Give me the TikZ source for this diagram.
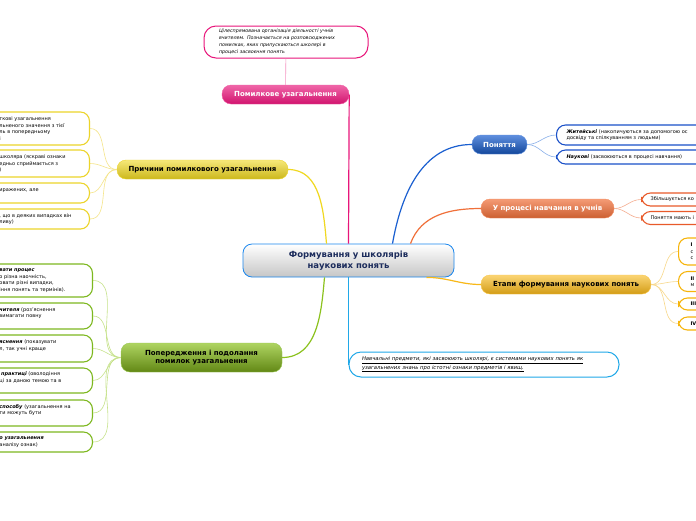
\documentclass[tikz,border=0pt]{standalone}
\usepackage{fontspec}
\setmainfont{DejaVu Sans}
\usetikzlibrary{positioning}

\definecolor{pinklink}{HTML}{E8157A}
\definecolor{yelllink}{HTML}{F0D820}
\definecolor{yelledge}{HTML}{ECD42A}
\definecolor{yelltwig}{HTML}{F5E58A}
\definecolor{grnlink}{HTML}{8CC21E}
\definecolor{grnedge}{HTML}{7DB81F}
\definecolor{grntwig}{HTML}{C6E28A}
\definecolor{bluelink}{HTML}{1A5FD0}
\definecolor{blueedge}{HTML}{1A50C8}
\definecolor{bluetwig}{HTML}{8AB0EA}
\definecolor{orglink}{HTML}{F0703A}
\definecolor{orgedge}{HTML}{E85A2A}
\definecolor{orgtwig}{HTML}{F5AD90}
\definecolor{amblink}{HTML}{F8B818}
\definecolor{ambedge}{HTML}{F6B40A}
\definecolor{ambtwig}{HTML}{F8D88A}
\definecolor{cyanlink}{HTML}{20A8E8}
\definecolor{navytext}{HTML}{1C2C5C}

\begin{document}
\begin{tikzpicture}[x=1pt,y=-1pt,
  mainbox/.style={rounded corners=9pt,align=center,inner sep=2pt,
    font=\fontsize{7}{8.5}\selectfont\bfseries},
  leaf/.style={draw,line width=1.1pt,rounded corners=9pt,fill=white,
    inner xsep=10pt,inner ysep=2pt,align=left,font=\fontsize{5}{6.5}\selectfont},
  note/.style={draw,line width=1pt,rounded corners=12pt,fill=white,
    inner xsep=12pt,inner ysep=2pt,align=left,font=\fontsize{4.8}{6.9}\selectfont\itshape},
  link/.style={line width=1.2pt},
  twig/.style={line width=0.6pt}
]
\useasboundingbox (0,0) rectangle (696,520);
\clip (0,0) rectangle (696,520);
\fill[white] (0,0) rectangle (696,520);

\node[mainbox,draw=cyanlink!80!blue,line width=0.8pt,top color=white,bottom color=gray!45,
  text=navytext,minimum width=211pt,minimum height=33pt,
  font=\fontsize{8.5}{10.5}\selectfont\bfseries] (central) at (348.5,260.5)
  {Формування у школярів\\наукових понять};

\node[note,draw=pinklink,minimum width=164pt,minimum height=32pt,text width=134pt,inner xsep=15pt] (notetop) at (286,42)
  {Цілеспрямована організація діяльності учнів\\вчителем. Позначається на розповсюджених\\помилках, яких припускаються школярі в\\процесі засвоєння понять};
\node[mainbox,draw=pinklink!70!white,top color=pinklink!65!white,bottom color=pinklink!90!black,
  text=white,minimum width=127pt,minimum height=19pt] (pomylk) at (285.5,94.5) {Помилкове узагальнення};

\node[mainbox,draw=yelledge,top color=yelllink!60!white,bottom color=yelllink!85!black,
  minimum width=171pt,minimum height=19pt] (prychyny) at (202.5,169.5) {Причини помилкового узагальнення};
\node[mainbox,draw=grnedge!80!white,top color=grnlink!70!white,bottom color=grnlink!70!black,
  minimum width=161pt,minimum height=29pt] (poper) at (201.5,357.5) {Попередження і подолання\\помилок узагальнення};
\node[mainbox,draw=bluelink!70!white,top color=bluelink!70!white,bottom color=bluelink!75!black,
  text=white,minimum width=55pt,minimum height=19pt] (ponyattya) at (499.5,144.5) {Поняття};
\node[mainbox,draw=orglink!80!white,top color=orglink!70!white,bottom color=orglink!85!black,
  text=white,minimum width=133pt,minimum height=19pt] (navch) at (547.5,208.5) {У процесі навчання в учнів};
\node[mainbox,draw=amblink!80!white,top color=amblink!60!white,bottom color=amblink!85!black,
  minimum width=170pt,minimum height=19pt] (etapy) at (566,284.5) {Етапи формування наукових понять};

\node[note,draw=cyanlink,minimum width=270pt,minimum height=25pt,text width=244pt,
  font=\fontsize{5.3}{7}\selectfont\itshape] (notebot) at (484,364.5)
  {\underline{Навчальні предмети, які засвоюють школярі, є системами наукових понять як}\\
   \underline{узагальнених знань про істотні ознаки предметів і явищ.}};

% причини
\node[leaf,draw=yelledge,text width=80pt,anchor=east,minimum height=33pt] (pr1) at (90,128.5)
  {ткові узагальнення\\льненого значення з тієї\\ль в попередньому\\і};
\node[leaf,draw=yelledge,text width=80pt,anchor=east,minimum height=27pt] (pr2) at (90,163.5)
  {школяра (яскраві ознаки\\едньо сприймається з\\)};
\node[leaf,draw=yelledge,text width=80pt,anchor=east,minimum height=20pt] (pr3) at (90,193)
  {иражених, але\\\mbox{}};
\node[leaf,draw=yelledge,text width=80pt,anchor=east,minimum height=20pt] (pr4) at (90,219)
  {, що в деяких випадках він\\ливу)};

% попередження
\node[leaf,draw=grnedge,text width=81pt,inner xsep=12pt,anchor=east,minimum height=33pt] (pp1) at (93,280.5)
  {\textbf{\textit{вати процес}}\\о різна наочність,\\овати різні випадки,\\іння понять та термінів).};
\node[leaf,draw=grnedge,text width=81pt,inner xsep=12pt,anchor=east,minimum height=26pt] (pp2) at (93,316)
  {\textbf{\textit{чителя}} (роз'яснення\\ вимагати повну\\\mbox{}};
\node[leaf,draw=grnedge,text width=81pt,inner xsep=12pt,anchor=east,minimum height=27pt] (pp3) at (93,348.5)
  {\textbf{\textit{яснення}} (показувати\\л, так учні краще\\\mbox{}};
\node[leaf,draw=grnedge,text width=81pt,inner xsep=12pt,anchor=east,minimum height=25pt] (pp4) at (93,380.5)
  {\textbf{\textit{ практиці}} (оволодіння\\ці за даною темою та в\\\mbox{}};
\node[leaf,draw=grnedge,text width=81pt,inner xsep=12pt,anchor=east,minimum height=26pt] (pp5) at (93,413)
  {\textbf{\textit{способу}} (узагальнення на\\ти можуть бути\\\mbox{}};
\node[leaf,draw=grnedge,text width=81pt,inner xsep=12pt,anchor=east,minimum height=20pt] (pp6) at (93,442)
  {\textbf{\textit{о узагальнення}}\\ аналізу ознак)};

% поняття
\node[leaf,draw=blueedge,text width=200pt,anchor=west,minimum height=20pt] (pn1) at (556,135)
  {\textbf{\textit{Житейські}} (накопичуються за допомогою ос\\досвіду та спілкуванням з людьми)};
\node[leaf,draw=blueedge,text width=200pt,anchor=west,minimum height=14pt] (pn2) at (556,157)
  {\textbf{\textit{Наукові}} (засвоюються в процесі навчання)};

% у процесі навчання
\node[leaf,draw=orgedge,text width=120pt,inner xsep=9pt,anchor=west,minimum height=13pt] (nv1) at (641,199.5)
  {Збільшується ко};
\node[leaf,draw=orgedge,text width=120pt,inner xsep=9pt,anchor=west,minimum height=13pt] (nv2) at (641,218)
  {Поняття мають і};

% етапи
\node[leaf,draw=ambedge,text width=80pt,inner xsep=12pt,anchor=west,minimum height=27pt] (et1) at (678,251.5)
  {\textbf{I}\\с\\с};
\node[leaf,draw=ambedge,text width=80pt,inner xsep=12pt,anchor=west,minimum height=20pt] (et2) at (678,281.5)
  {\textbf{II}\\м};
\node[leaf,draw=ambedge,text width=80pt,inner xsep=12pt,anchor=west,minimum height=12pt] (et3) at (678,304)
  {\textbf{III}};
\node[leaf,draw=ambedge,text width=80pt,inner xsep=12pt,anchor=west,minimum height=13pt] (et4) at (678,323.5)
  {\textbf{IV}};

\draw[twig,pinklink!45!white] (notetop) -- (pomylk);
\draw[link,pinklink] (central.north) -- (pomylk.east);
\draw[link,cyanlink] (central.south) -- (notebot.west);
\draw[link,yelllink] ([xshift=-22pt]central.north) to[out=95,in=0] (prychyny.east);
\draw[link,grnlink] ([xshift=-24pt]central.south) to[out=-95,in=0] (poper.east);
\draw[link,bluelink] ([xshift=44pt]central.north) to[out=80,in=180] (ponyattya.west);
\draw[link,orglink] ([xshift=62pt]central.north) to[out=70,in=180] (navch.west);
\draw[link,amblink] ([xshift=78pt]central.south) to[out=0,in=180] (etapy.west);

\foreach \n in {pr1,pr2,pr3,pr4}
  \draw[twig,yelltwig] (prychyny.west) to[out=180,in=0] (\n.east);
\foreach \n in {pp1,pp2,pp3,pp4,pp5,pp6}
  \draw[twig,grntwig] (poper.west) to[out=180,in=0] (\n.east);
\foreach \n in {pn1,pn2}
  \draw[twig,bluetwig] (ponyattya.east) to[out=0,in=180] (\n.west);
\foreach \n in {nv1,nv2}
  \draw[twig,orgtwig] (navch.east) to[out=0,in=180] (\n.west);
\foreach \n in {et1,et2,et3,et4}
  \draw[twig,ambtwig] (etapy.east) to[out=0,in=180] (\n.west);
\end{tikzpicture}
\end{document}
